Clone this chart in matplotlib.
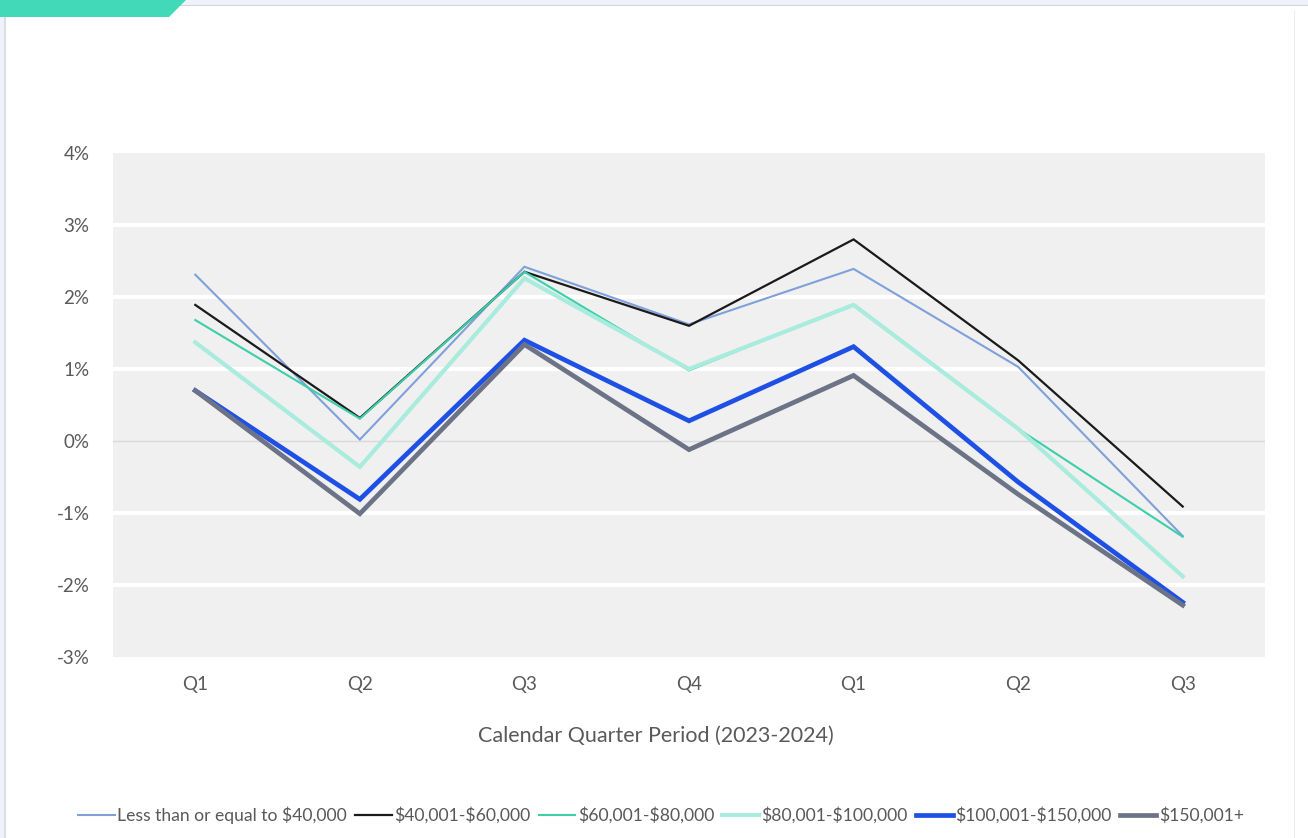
import matplotlib.pyplot as plt
from matplotlib.patches import Polygon, Rectangle
from matplotlib.ticker import FuncFormatter

plt.rcParams['font.family'] = ['Lato', 'DejaVu Sans']
plt.rcParams['text.parse_math'] = False  # labels contain literal dollar signs

# Quarterly change by income band, in percent
quarters = ['Q1', 'Q2', 'Q3', 'Q4', 'Q1', 'Q2', 'Q3']
series_names = [
    'Less than or equal to $40,000',
    '$40,001-$60,000',
    '$60,001-$80,000',
    '$80,001-$100,000',
    '$100,001-$150,000',
    '$150,001+',
]
under_40k = [2.31, 0.02, 2.42, 1.62, 2.39, 1.03, -1.32]
k40_60 = [1.89, 0.32, 2.35, 1.60, 2.80, 1.12, -0.91]
k60_80 = [1.68, 0.31, 2.35, 0.98, 1.90, 0.17, -1.33]
k80_100 = [1.37, -0.36, 2.26, 1.00, 1.89, 0.17, -1.88]
k100_150 = [0.70, -0.81, 1.40, 0.28, 1.31, -0.57, -2.24]
over_150k = [0.70, -1.01, 1.34, -0.12, 0.91, -0.74, -2.28]

series_values = [under_40k, k40_60, k60_80, k80_100, k100_150, over_150k]
colors = ['#7FA0DB', '#1A1A1A', '#3CCFA9', '#A9ECDD', '#1E50E6', '#6D7386']
widths = [1.5, 1.6, 1.5, 3.0, 3.4, 3.4]

W, H = 1308, 838
fig = plt.figure(figsize=(W / 100, H / 100), dpi=100)
fig.patch.set_facecolor('white')


def px(x, y):
    # pixel position (from top-left) to figure fraction
    return (x / W, 1 - y / H)


def box(x0, y0, x1, y1, color):
    fig.patches.append(Rectangle(px(x0, y1), (x1 - x0) / W, (y1 - y0) / H,
                                 transform=fig.transFigure, facecolor=color, edgecolor='none'))


# page frame around the chart
box(0, 0, W, 5, '#EEF3FB')
box(0, 5, W, 6.2, '#D2D4D8')
box(0, 6, 4, H, '#EEF3FB')
box(4, 6, 5.5, H, '#DADDE2')
box(1294, 10, 1295.2, H, '#ECECEC')
fig.patches.append(Polygon([px(0, 0), px(186, 0), px(169, 17), px(0, 17)], closed=True,
                           transform=fig.transFigure, facecolor='#42D9B8', edgecolor='none'))

ax = fig.add_axes([113 / W, 1 - 657 / H, (1265 - 113) / W, (657 - 153) / H])
ax.set_facecolor('#F0F0F0')
for s in ax.spines.values():
    s.set_visible(False)

x = list(range(len(quarters)))
for name, vals, c, lw in zip(series_names, series_values, colors, widths):
    ax.plot(x, vals, color=c, lw=lw, label=name, solid_joinstyle='miter', zorder=3)

ax.set_xlim(-0.5, len(quarters) - 0.5)
ax.set_ylim(-3, 4)
ax.set_yticks(range(-3, 5))
ax.yaxis.set_major_formatter(FuncFormatter(lambda v, p: f'{int(v)}%'))
for g in [-2, -1, 1, 2, 3]:
    ax.axhline(g, color='white', lw=3, zorder=1)
ax.axhline(0, color='#D9D9D9', lw=1, zorder=1)

ax.set_xticks(x)
ax.set_xticklabels(quarters)
ax.tick_params(axis='both', length=0, labelsize=13.5, labelcolor='#595959')
ax.tick_params(axis='y', pad=17)
ax.tick_params(axis='x', pad=14)

fig.text(656 / W, 1 - 736 / H, 'Calendar Quarter Period (2023-2024)', fontsize=15.5,
         color='#595959', ha='center', va='center')

fig.legend(loc='center', bbox_to_anchor=(661 / W, 1 - 815 / H), ncol=6, frameon=False,
           fontsize=12.6, labelcolor='#595959', handlelength=2.1, handletextpad=0.15,
           columnspacing=0.45, borderaxespad=0)

fig.savefig('out.png', dpi=100, facecolor='white')
